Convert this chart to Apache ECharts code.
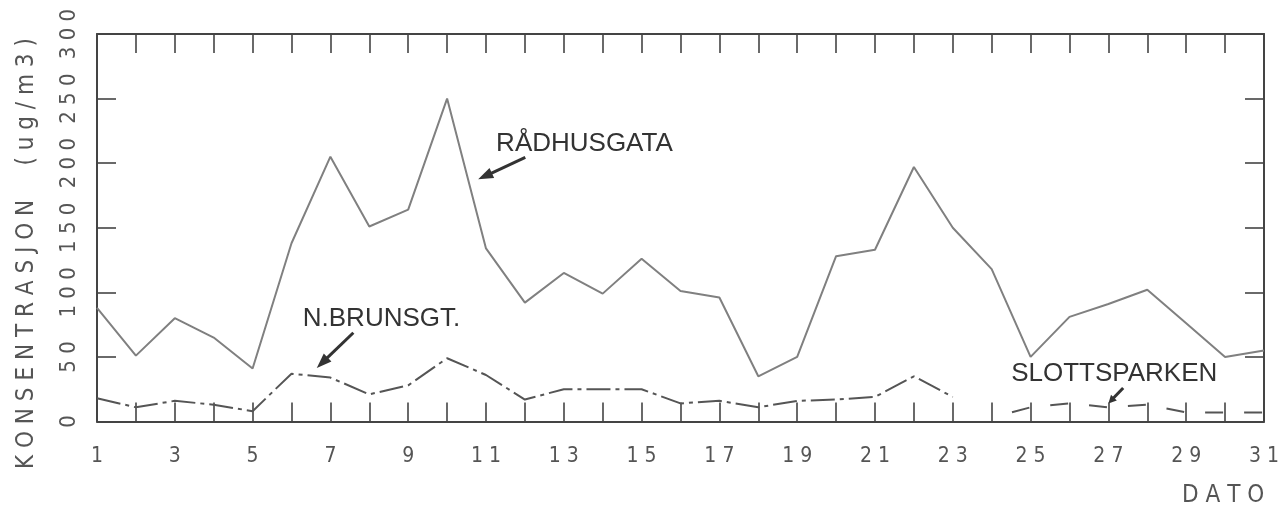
<!DOCTYPE html>
<html>
<head>
<meta charset="utf-8">
<script src="https://cdn.jsdelivr.net/npm/echarts@6/dist/echarts.min.js"></script>
<style>
  html, body { margin: 0; padding: 0; background: #fff; }
  #chart { width: 1282px; height: 507px; }
</style>
</head>
<body>
<div id="chart"></div>
<script>
// Daily concentrations (ug/m3) by day of month
const days = [1,2,3,4,5,6,7,8,9,10,11,12,13,14,15,16,17,18,19,20,21,22,23,24,25,26,27,28,29,30,31];
const radhusgata = [88,51,80,65,41,138,205,151,164,250,134,92,115,99,126,101,96,35,50,128,133,197,150,118,50,81,91,102,76,50,55];
const nBrunsgt = [18,11,16,13,8,37,34,21,28,49,36,17,25,25,25,14,16,11,16,17,19,35,19,null,null,null,null,null,null,null,null];
const slottsparken = [null,null,null,null,null,null,null,null,null,null,null,null,null,null,null,null,null,null,null,null,null,null,null,3,11,14,11,13,7,7,7];
const yTicks = [0,50,100,150,200,250,300];
const seriesNames = ['RÅDHUSGATA', 'N.BRUNSGT.', 'SLOTTSPARKEN'];
const yTitle = 'KONSENTRASJON (ug/m3)';
const xTitle = 'DATO';

const NARROW = '"Liberation Sans Narrow", "DejaVu Sans Condensed", "Roboto Condensed", sans-serif';
const SANS = '"Liberation Sans", Arial, sans-serif';
const AXIS = '#444';
const TEXT = '#555';

// plotter-style lettering: characters spread apart
const spread = s => String(s).split('').join(' ');

const pairs = arr => days.map((d, i) => [d, arr[i]]);

const chart = echarts.init(document.getElementById('chart'), null, { renderer: 'canvas' });

const tickStyle = { show: true, inside: true, length: 19, lineStyle: { color: AXIS, width: 1.6 } };
const lineStyleAxis = { show: true, onZero: false, lineStyle: { color: AXIS, width: 2 } };

chart.setOption({
  backgroundColor: '#fff',
  animation: false,
  grid: { left: 97, right: 16, top: 34, bottom: 85.5, containLabel: false },
  xAxis: [
    {
      type: 'value', min: 1, max: 31, interval: 1, position: 'bottom',
      axisLine: lineStyleAxis, axisTick: tickStyle, splitLine: { show: false },
      axisLabel: {
        margin: 25, color: TEXT, fontFamily: NARROW, fontSize: 21,
        formatter: v => (v % 2 === 1 ? spread(v) : '')
      }
    },
    {
      type: 'value', min: 1, max: 31, interval: 1, position: 'top',
      axisLine: lineStyleAxis, axisTick: tickStyle, splitLine: { show: false },
      axisLabel: { show: false }
    }
  ],
  yAxis: [
    {
      type: 'value', min: 0, max: 300, interval: 50, position: 'left',
      axisLine: lineStyleAxis, axisTick: tickStyle, splitLine: { show: false },
      axisLabel: {
        rotate: 90, margin: 17, color: TEXT, fontFamily: NARROW, fontSize: 22,
        formatter: v => spread(v)
      }
    },
    {
      type: 'value', min: 0, max: 300, interval: 50, position: 'right',
      axisLine: lineStyleAxis, axisTick: tickStyle, splitLine: { show: false },
      axisLabel: { show: false }
    }
  ],
  series: [
    {
      name: seriesNames[0], type: 'line', data: pairs(radhusgata),
      xAxisIndex: 0, yAxisIndex: 0, symbol: 'none', connectNulls: false,
      lineStyle: { color: '#808080', width: 2 }
    },
    {
      name: seriesNames[1], type: 'line', data: pairs(nBrunsgt),
      xAxisIndex: 0, yAxisIndex: 0, symbol: 'none', connectNulls: false,
      lineStyle: { color: '#555', width: 2, type: [24, 5, 4, 5] }
    },
    {
      name: seriesNames[2], type: 'line', data: pairs(slottsparken),
      xAxisIndex: 0, yAxisIndex: 0, symbol: 'none', connectNulls: false,
      lineStyle: { color: '#555', width: 2, type: [18, 21], dashOffset: 18 }
    }
  ]
});

// Labels with pointer arrows, positioned in data space
const toPx = (d, v) => chart.convertToPixel({ xAxisIndex: 0, yAxisIndex: 0 }, [d, v]);

function arrow(tail, tip, headLen, headHalf) {
  const [x1, y1] = toPx(tail[0], tail[1]);
  const [x2, y2] = toPx(tip[0], tip[1]);
  const dx = x2 - x1, dy = y2 - y1;
  const len = Math.hypot(dx, dy);
  const ux = dx / len, uy = dy / len;
  const bx = x2 - ux * headLen, by = y2 - uy * headLen;
  const nx = -uy, ny = ux;
  return [
    { type: 'line', shape: { x1, y1, x2: bx + ux * 2, y2: by + uy * 2 },
      style: { stroke: '#333', lineWidth: 3 } },
    { type: 'polygon',
      shape: { points: [[x2, y2], [bx + nx * headHalf, by + ny * headHalf], [bx - nx * headHalf, by - ny * headHalf]] },
      style: { fill: '#333' } }
  ];
}

function label(text, at, opts) {
  const [x, y] = toPx(at[0], at[1]);
  return {
    type: 'text', x, y,
    style: Object.assign({
      text, fill: '#333', font: '26px ' + SANS, textAlign: 'left', textVerticalAlign: 'bottom'
    }, opts || {})
  };
}

// rotated axis title, reading bottom to top
const [titleX, titleY] = toPx(-0.8, 130);
const yTitleText = {
  type: 'text', x: titleX, y: titleY, rotation: Math.PI / 2,
  style: {
    text: spread(yTitle).replace(' (', '   ('),
    fill: TEXT, font: '24px ' + NARROW, textAlign: 'center', textVerticalAlign: 'middle'
  }
};

const graphics = [yTitleText].concat(
  label(seriesNames[0], [11.26, 205]),
  arrow([12.01, 204.5], [10.80, 187.5], 15, 5.5),
  label(seriesNames[1], [6.29, 69.5]),
  arrow([7.59, 68.7], [6.65, 41.5], 15, 5.5),
  label(seriesNames[2], [24.5, 26.5]),
  arrow([27.38, 26.0], [27.0, 14.0], 8, 4),
  label(spread(xTitle), [29.95, -57.5], {
    fill: TEXT, font: '24px ' + NARROW, textAlign: 'center', textVerticalAlign: 'middle'
  })
);

chart.setOption({ graphic: graphics });
</script>
</body>
</html>
